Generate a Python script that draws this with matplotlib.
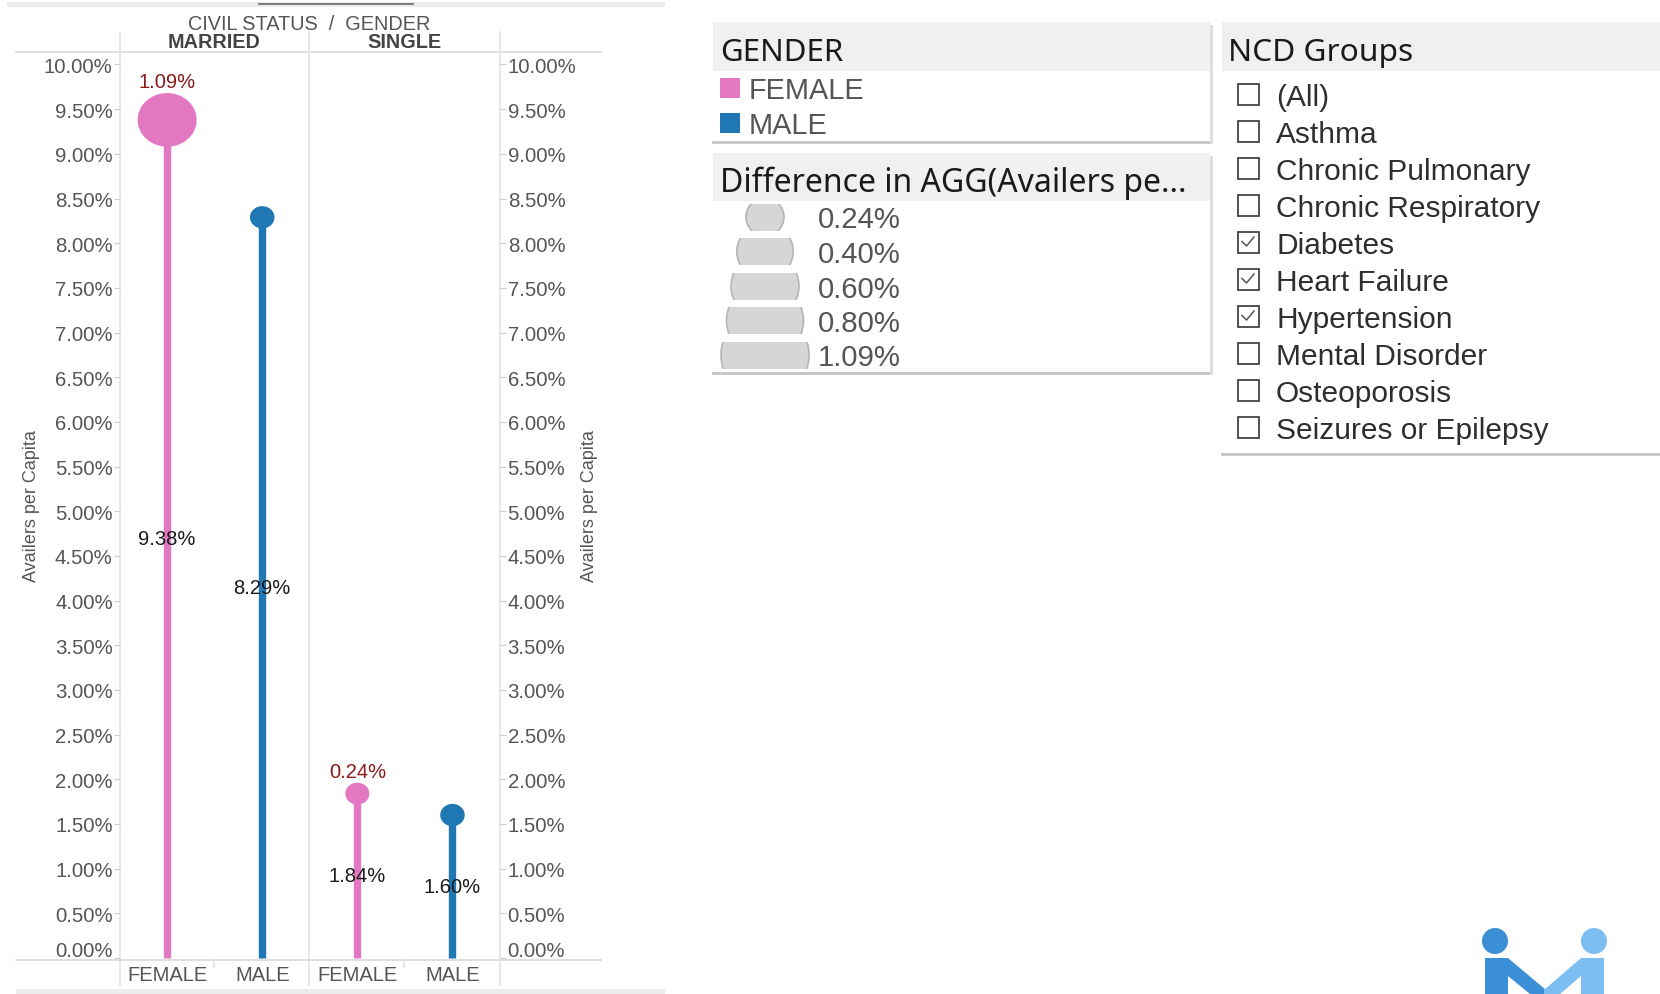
import numpy as np
import matplotlib
matplotlib.use("Agg")
import matplotlib.pyplot as plt
from matplotlib.path import Path
from matplotlib.patches import Rectangle, Circle, Polygon
from matplotlib.ticker import FuncFormatter
from matplotlib.transforms import ScaledTranslation

# data
civil_status = ['MARRIED', 'SINGLE']
gender = ['FEMALE', 'MALE', 'FEMALE', 'MALE']
availers = [9.38, 8.29, 1.84, 1.60]          # Availers per Capita (%)
difference = [1.09, None, 0.24, None]        # Difference in AGG (%)
size_legend = [0.24, 0.40, 0.60, 0.80, 1.09]
ncd_groups = ['(All)', 'Asthma', 'Chronic Pulmonary', 'Chronic Respiratory',
              'Diabetes', 'Heart Failure', 'Hypertension', 'Mental Disorder',
              'Osteoporosis', 'Seizures or Epilepsy']
ncd_checked = [False, False, False, False, True, True, True, False, False, False]

PINK = '#E377C2'
BLUE = '#1F77B4'
colors = [PINK if g == 'FEMALE' else BLUE for g in gender]

W, H = 1660, 995
fig = plt.figure(figsize=(W / 100, H / 100), dpi=100)
fig.patch.set_facecolor('white')

# overlay in pixel coords for the dashboard chrome
ov = fig.add_axes([0, 0, 1, 1], zorder=0)
ov.set_xlim(0, W)
ov.set_ylim(H, 0)
ov.axis('off')

GRID = '#e3e3e3'
# top / bottom gray bars
ov.add_patch(Rectangle((7, 3), 658, 5, color='#ececec', lw=0))
ov.plot([259, 413], [4.5, 4.5], color='#666666', lw=1.2)
ov.add_patch(Rectangle((16, 990), 649, 5, color='#ececec', lw=0))

# header / footer lines of the chart
ov.plot([16, 601], [52.5, 52.5], color='#d9d9d9', lw=1.2)
ov.plot([16, 601], [960.5, 960.5], color='#d9d9d9', lw=1.2)
for x in [119.6, 309, 500]:
    ov.plot([x, x], [33, 986], color=GRID, lw=1.2)
for x in [214, 404]:
    ov.plot([x, x], [960, 968], color=GRID, lw=1.2)

ov.text(309, 25, 'CIVIL STATUS  /  GENDER', ha='center', va='center',
        fontsize=14.3, color='#555555', family='Liberation Sans')
for cx, name in zip([214, 404], civil_status):
    ov.text(cx, 43, name, ha='center', va='center', fontsize=14.3,
            fontweight='bold', color='#444444', family='Liberation Sans')
for x in [32, 589]:
    ov.text(x, 506, 'Availers per Capita', ha='center', va='center',
            rotation=90, fontsize=13, color='#555555', family='Liberation Sans')

# main lollipop axes
ax = fig.add_axes([119.6 / W, 35 / H, 380.4 / W, 908 / H], zorder=2)
ax.set_facecolor('none')
xs = np.arange(len(gender))
ax.vlines(xs, 0, availers, colors=colors, lw=5.3, zorder=2)

t = np.linspace(0, 2 * np.pi, 80)
ell = Path(np.column_stack([1.1 * np.cos(t), np.sin(t)]), closed=True)
sizes = []
for d in difference:
    dpx = 24.5 if d is None else 24 + 35 * (d - 0.24) / 0.85
    sizes.append((dpx * 0.72) ** 2)
ax.scatter(xs, availers, s=sizes, c=colors, marker=ell, lw=0, zorder=3)

for x, v, d, s in zip(xs, availers, difference, sizes):
    ax.text(x, v / 2, f'{v:.2f}%', ha='center', va='center', fontsize=14.5,
            color='#1a1a1a', family='Liberation Sans', zorder=4)
    if d is not None:
        ax.annotate(f'{d:.2f}%', (x, v), xytext=(0, np.sqrt(s) / 1.1 / 2 + 1.5),
                    textcoords='offset points', ha='center', va='bottom',
                    fontsize=14.5, color='#8B1A1A', family='Liberation Sans')

ax.set_xlim(-0.5, 3.5)
ax.set_ylim(-0.011, 10.151)
yt = np.arange(0, 10.01, 0.5)
fmt = FuncFormatter(lambda v, p: f'{v:.2f}%')
ax.set_yticks(yt)
ax.yaxis.set_major_formatter(fmt)
ax.set_xticks(xs)
ax.set_xticklabels(gender)
ax.tick_params(axis='x', length=0, pad=4, labelsize=14.5, labelcolor='#555555')
ax.tick_params(axis='y', length=4, color='#cccccc', pad=1, labelsize=14.7,
               labelcolor='#555555')
for lab in ax.get_xticklabels() + ax.get_yticklabels():
    lab.set_family('Liberation Sans')
for sp in ax.spines.values():
    sp.set_visible(False)

ax2 = ax.twinx()
ax2.set_ylim(ax.get_ylim())
ax2.set_yticks(yt)
ax2.yaxis.set_major_formatter(fmt)
ax2.tick_params(axis='y', length=4, color='#cccccc', pad=1.5, labelsize=14.7,
                labelcolor='#555555')
for lab in ax2.get_yticklabels():
    lab.set_family('Liberation Sans')
for sp in ax2.spines.values():
    sp.set_visible(False)

# the 0.00% labels sit a bit above the floor, like the original
lift = ScaledTranslation(0, 7 / 72, fig.dpi_scale_trans)
t0 = ax.yaxis.get_major_ticks()[0]
t0.label1.set_transform(t0.label1.get_transform() + lift)
t0 = ax2.yaxis.get_major_ticks()[0]
t0.label2.set_transform(t0.label2.get_transform() + lift)


def panel(x0, y0, x1, y1, head_h, title, size=22.5):
    ov.add_patch(Rectangle((x0, y0), x1 - x0, head_h, color='#f0f0f0', lw=0))
    ov.plot([x0, x1], [y1, y1], color='#c4c4c4', lw=2)
    ov.plot([x1 + 1, x1 + 1], [y0 + 4, y1], color='#dcdcdc', lw=2)
    ov.text(x0 + 7.5, y0 + 38, title, ha='left', va='baseline',
            fontsize=size, color='#1a1a1a', family='Noto Sans')


# GENDER legend
panel(712.5, 23, 1210, 143, 48.5, 'GENDER')
for i, (lab, col) in enumerate(zip(['FEMALE', 'MALE'], [PINK, BLUE])):
    cy = 89 + 34.5 * i
    ov.add_patch(Rectangle((720, cy - 10), 20, 20, color=col, lw=0))
    ov.text(749, cy + 10, lab, ha='left', va='baseline', fontsize=20.8,
            color='#555555', family='Liberation Sans')

# size legend
panel(712.5, 154, 1210, 374, 47.5, 'Difference in AGG(Availers pe...', 23)
for i, v in enumerate(size_legend):
    cy = 218 + 34.5 * i
    dpx = 38 + 50 * ((v - 0.24) / 0.85) ** 0.6
    clip = Rectangle((700, cy - 13.5), 140, 27, transform=ov.transData)
    c = Circle((765, cy), dpx / 2, facecolor='#d6d6d6', edgecolor='#b5b5b5', lw=1.2)
    ov.add_patch(c)
    c.set_clip_path(clip)
    ov.text(818, cy + 10.5, f'{v:.2f}%', ha='left', va='baseline', fontsize=21.2,
            color='#555555', family='Liberation Sans')

# NCD Groups filter
ov.add_patch(Rectangle((1221.5, 23), W - 1221.5, 48.5, color='#f0f0f0', lw=0))
ov.plot([1221.5, W], [455, 455], color='#c4c4c4', lw=2)
ov.text(1228, 61, 'NCD Groups', ha='left', va='baseline', fontsize=22.8,
        color='#1a1a1a', family='Noto Sans')
for i, (name, chk) in enumerate(zip(ncd_groups, ncd_checked)):
    cy = 95 + 37 * i
    ov.add_patch(Rectangle((1237.5, cy - 10.5), 21, 21, fill=False,
                           edgecolor='#444444', lw=1.3))
    if chk:
        ov.plot([1242, 1246.5, 1254], [cy - 0.5, cy + 4, cy - 5],
                color='#555555', lw=1.1)
    ov.text(1276, cy + 10.7, name, ha='left', va='baseline', fontsize=21.5,
            color='#2e2e2e', family='Liberation Sans')

# logo in the corner
ov.add_patch(Circle((1495, 942), 13, color='#3a8fd6', lw=0))
ov.add_patch(Circle((1594, 942), 13, color='#7dbef2', lw=0))
ov.add_patch(Polygon([(1485, 995), (1485, 959), (1508, 959), (1546, 991),
                      (1546, 995), (1530, 995), (1508, 977), (1508, 995)],
                     closed=True, color='#3a8fd6', lw=0))
ov.add_patch(Polygon([(1604, 995), (1604, 959), (1581, 959), (1544, 991),
                      (1544, 995), (1560, 995), (1581, 977), (1581, 995)],
                     closed=True, color='#7dbef2', lw=0))

fig.savefig('out.png', dpi=100)
